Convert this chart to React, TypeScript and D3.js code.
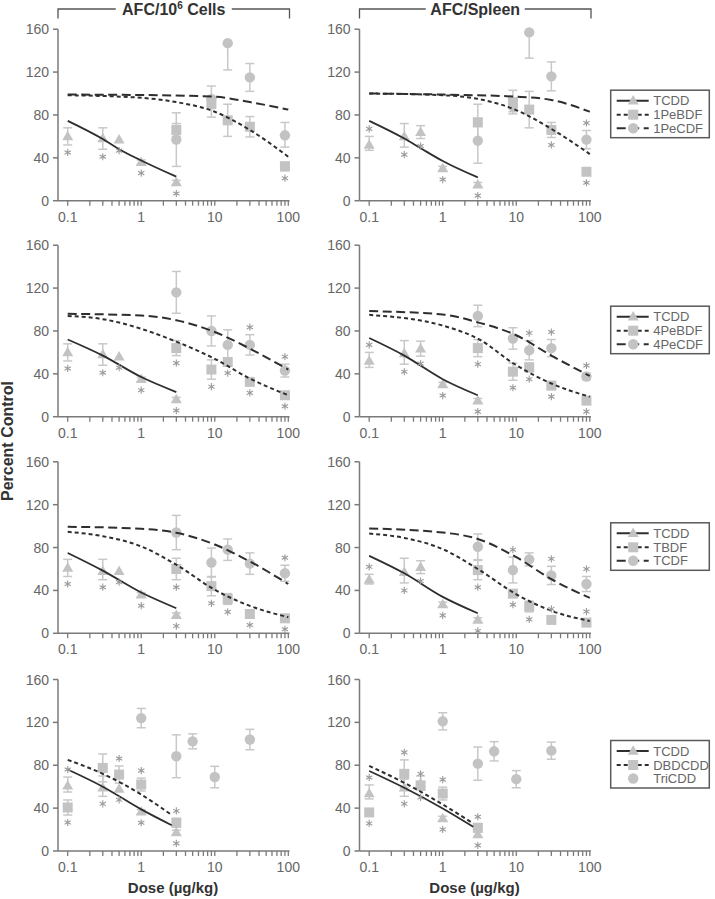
import React from 'react';
import * as d3 from 'd3';

// [dose, mean, errLo, errHi, star] star: 0 none, 1 below, 2 above
type Pt = [number, number, number, number, number];
type Cv = [number, number][];

const doseTicks = [0.1, 1, 10, 100];
const doseTickLabels = ['0.1', '1', '10', '100'];
const yTicks = [0, 40, 80, 120, 160];
const columnTitles = ['AFC/10|6| Cells', 'AFC/Spleen'];
const xTitle = 'Dose (µg/kg)';
const yTitle = 'Percent Control';
const legendNames = [
  ['TCDD', '1PeBDF', '1PeCDF'],
  ['TCDD', '4PeBDF', '4PeCDF'],
  ['TCDD', 'TBDF', 'TCDF'],
  ['TCDD', 'DBDCDD', 'TriCDD'],
];

// ---------- Row 1 ----------
const r1L_TCDD: Pt[] = [[0.1, 60, 8, 8, 1], [0.3, 58, 10, 10, 1], [0.5, 57, 0, 0, 1], [1, 36, 2, 2, 1], [3, 17, 2, 2, 1]];
const r1L_1PeBDF: Pt[] = [[3, 66, 6, 6, 0], [9, 91, 5, 5, 0], [15, 75, 15, 15, 0], [30, 69, 9.5, 9.5, 0], [90, 32, 4, 4, 1]];
const r1L_1PeCDF: Pt[] = [[3, 57, 25, 25, 0], [9, 95, 17, 12, 0], [15, 147, 25, 0, 0], [30, 115, 13, 13, 0], [90, 61, 11, 12, 0]];
const r1L_cTCDD: Cv = [[0.1, 74.5], [0.3, 57.5], [0.5, 48], [1, 37.5], [3, 22.4]];
const r1L_c1PeBDF: Cv = [[0.1, 98.4], [1, 96], [3, 92], [10, 83], [30, 66], [100, 41]];
const r1L_c1PeCDF: Cv = [[0.1, 99], [1, 98.6], [10, 97], [30, 92], [100, 85]];

const r1R_TCDD: Pt[] = [[0.1, 52, 5, 8, 2], [0.3, 60, 10, 12, 1], [0.5, 64, 6, 6, 1], [1, 30, 2, 2, 1], [3, 15, 2, 2, 1]];
const r1R_1PeBDF: Pt[] = [[3, 73, 17, 17, 0], [9, 92, 11, 11, 0], [15, 85, 17, 17, 0], [30, 66, 7, 7, 1], [90, 27, 3, 3, 1]];
const r1R_1PeCDF: Pt[] = [[3, 56, 21, 21, 0], [9, 88, 5, 5, 0], [15, 157, 24, 0, 0], [30, 116, 13.5, 13.5, 0], [90, 57, 8.5, 8.5, 2]];
const r1R_cTCDD: Cv = [[0.1, 74.5], [0.3, 58], [0.5, 49], [1, 37], [3, 21.7]];
const r1R_c1PeBDF: Cv = [[0.1, 100], [1, 98.4], [3, 95], [10, 84.5], [30, 67], [100, 43.5]];
const r1R_c1PeCDF: Cv = [[0.1, 100], [1, 99], [10, 97], [30, 94], [100, 83]];

// ---------- Row 2 ----------
const r2L_TCDD: Pt[] = [[0.1, 60, 8, 8, 1], [0.3, 58, 10, 10, 1], [0.5, 56, 0, 0, 1], [1, 35, 2, 2, 1], [3, 16, 2, 2, 1]];
const r2L_4PeBDF: Pt[] = [[3, 64, 7, 7, 1], [9, 44, 9, 9, 1], [15, 51, 3, 3, 1], [30, 32.5, 3, 3, 1], [90, 20, 2, 2, 1]];
const r2L_4PeCDF: Pt[] = [[3, 116, 19.5, 19.5, 0], [9, 80, 14, 14, 0], [15, 67, 14, 14, 0], [30, 67, 9.5, 9.5, 2], [90, 43, 6, 6, 2]];
const r2L_cTCDD: Cv = [[0.1, 72], [0.3, 57], [1, 37], [3, 23]];
const r2L_c4PeBDF: Cv = [[0.1, 94], [0.3, 91], [1, 82], [3, 70], [10, 54], [30, 35.6], [100, 20]];
const r2L_c4PeCDF: Cv = [[0.1, 96], [1, 94.4], [3, 90], [10, 79], [30, 63.5], [100, 44]];

const r2R_TCDD: Pt[] = [[0.1, 52, 6, 8, 2], [0.3, 59, 10, 12, 1], [0.5, 63.5, 7, 7, 1], [1, 30, 2, 2, 1], [3, 15, 2, 2, 1]];
const r2R_4PeBDF: Pt[] = [[3, 64, 8, 8, 1], [9, 42, 8, 8, 1], [15, 46, 4, 4, 1], [30, 29, 2, 2, 1], [90, 15, 2, 2, 1]];
const r2R_4PeCDF: Pt[] = [[3, 94, 10, 10, 0], [9, 73, 10, 10, 0], [15, 62, 9, 9, 2], [30, 64, 8, 8, 2], [90, 37.5, 3, 3, 2]];
const r2R_cTCDD: Cv = [[0.1, 73.4], [0.3, 57], [1, 35], [3, 20]];
const r2R_c4PeBDF: Cv = [[0.1, 95], [1, 85], [3, 72.8], [10, 48], [30, 31], [100, 18.6]];
const r2R_c4PeCDF: Cv = [[0.1, 98.5], [1, 95.4], [3, 88], [10, 76], [30, 57], [100, 38]];

// ---------- Row 3 ----------
const r3L_TCDD: Pt[] = [[0.1, 61, 8, 8, 1], [0.3, 58, 8, 11, 1], [0.5, 58, 0, 0, 1], [1, 36, 2, 2, 1], [3, 17, 2, 2, 1]];
const r3L_TBDF: Pt[] = [[3, 60, 10, 10, 1], [9, 44, 9, 9, 1], [15, 32, 5, 5, 1], [30, 18, 2, 2, 1], [90, 14, 2, 2, 1]];
const r3L_TCDF: Pt[] = [[3, 94, 16, 16, 0], [9, 66, 13.5, 13.5, 0], [15, 78, 10, 10, 0], [30, 65, 10, 10, 0], [90, 56, 7.5, 7.5, 2]];
const r3L_cTCDD: Cv = [[0.1, 75], [0.3, 58.5], [1, 38], [3, 23.4]];
const r3L_cTBDF: Cv = [[0.1, 94.7], [0.3, 90.6], [1, 81], [3, 64], [10, 40.6], [30, 25.6], [100, 15]];
const r3L_cTCDF: Cv = [[0.1, 99.4], [1, 97.5], [3, 93.75], [10, 82.8], [30, 67], [100, 46]];

const r3R_TCDD: Pt[] = [[0.1, 50, 4, 5, 2], [0.3, 57, 10, 13, 1], [0.5, 61.7, 6, 6, 1], [1, 27, 2, 2, 1], [3, 12.5, 2, 2, 1]];
const r3R_TBDF: Pt[] = [[3, 59, 9, 9, 1], [9, 37, 3, 3, 1], [15, 25, 5, 5, 1], [30, 12.5, 2, 2, 2], [90, 10, 2, 2, 2]];
const r3R_TCDF: Pt[] = [[3, 80.7, 12, 12, 0], [9, 59, 12, 12, 2], [15, 69, 6, 6, 0], [30, 54, 8.5, 8.5, 2], [90, 46, 7, 7, 2]];
const r3R_cTCDD: Cv = [[0.1, 72.3], [0.3, 56], [1, 34], [3, 18.7]];
const r3R_cTBDF: Cv = [[0.1, 93], [0.3, 89], [1, 78.5], [3, 60], [10, 36.4], [30, 21], [100, 11.5]];
const r3R_cTCDF: Cv = [[0.1, 97.8], [1, 94], [3, 88], [10, 71], [30, 50.5], [100, 33]];

// ---------- Row 4 ----------
const r4L_TCDD: Pt[] = [[0.1, 61, 6, 8, 2], [0.3, 59, 8, 11, 1], [0.5, 58, 0, 0, 1], [1, 36.6, 2, 2, 1], [3, 17.4, 2, 2, 1]];
const r4L_DBDCDD: Pt[] = [[0.1, 40.6, 7, 7, 1], [0.3, 77.5, 13, 13, 0], [0.5, 71.3, 8, 8, 2], [1, 62, 6, 6, 2], [3, 26.4, 4, 4, 2]];
const r4L_TriCDD: Pt[] = [[1, 124, 9, 9, 0], [3, 88.4, 20, 20, 0], [5, 102.3, 7, 7, 0], [10, 69, 10, 10, 0], [30, 104, 9.5, 9.5, 0]];
const r4L_cTCDD: Cv = [[0.1, 76], [0.3, 60], [1, 38.8], [2.6, 24]];
const r4L_cDBDCDD: Cv = [[0.1, 85], [0.3, 72], [1, 52.7], [2.6, 33.5]];

const r4R_TCDD: Pt[] = [[0.1, 53.6, 5, 8, 2], [0.3, 59, 8, 8, 1], [0.5, 63, 6, 7, 1], [1, 30.4, 2, 2, 1], [3, 15.5, 2, 2, 1]];
const r4R_DBDCDD: Pt[] = [[0.1, 36, 3, 3, 1], [0.3, 72, 13, 13, 2], [0.5, 61, 4, 4, 2], [1, 53.6, 6, 6, 2], [3, 21.7, 3, 3, 2]];
const r4R_TriCDD: Pt[] = [[1, 121, 8, 8, 0], [3, 81.5, 15.5, 15.5, 0], [5, 93, 9, 9, 0], [10, 67, 8, 8, 0], [30, 93.6, 8, 8, 0]];
const r4R_cTCDD: Cv = [[0.1, 74.7], [0.3, 59], [1, 39.7], [2.6, 22.6]];
const r4R_cDBDCDD: Cv = [[0.1, 79.4], [0.3, 63.6], [1, 43.4], [2.6, 25.7]];

type Panel = { pts: Pt[][]; curves: (Cv | null)[] };
const rows: { names: string[]; left: Panel; right: Panel }[] = [
  { names: legendNames[0],
    left: { pts: [r1L_TCDD, r1L_1PeBDF, r1L_1PeCDF], curves: [r1L_cTCDD, r1L_c1PeBDF, r1L_c1PeCDF] },
    right: { pts: [r1R_TCDD, r1R_1PeBDF, r1R_1PeCDF], curves: [r1R_cTCDD, r1R_c1PeBDF, r1R_c1PeCDF] } },
  { names: legendNames[1],
    left: { pts: [r2L_TCDD, r2L_4PeBDF, r2L_4PeCDF], curves: [r2L_cTCDD, r2L_c4PeBDF, r2L_c4PeCDF] },
    right: { pts: [r2R_TCDD, r2R_4PeBDF, r2R_4PeCDF], curves: [r2R_cTCDD, r2R_c4PeBDF, r2R_c4PeCDF] } },
  { names: legendNames[2],
    left: { pts: [r3L_TCDD, r3L_TBDF, r3L_TCDF], curves: [r3L_cTCDD, r3L_cTBDF, r3L_cTCDF] },
    right: { pts: [r3R_TCDD, r3R_TBDF, r3R_TCDF], curves: [r3R_cTCDD, r3R_cTBDF, r3R_cTCDF] } },
  { names: legendNames[3],
    left: { pts: [r4L_TCDD, r4L_DBDCDD, r4L_TriCDD], curves: [r4L_cTCDD, r4L_cDBDCDD, null] },
    right: { pts: [r4R_TCDD, r4R_DBDCDD, r4R_TriCDD], curves: [r4R_cTCDD, r4R_cDBDCDD, null] } },
];

// ---------- layout ----------
const W = 715, H = 899;
const FONT = '"Liberation Sans", Arial, Helvetica, sans-serif';
const colAxisX = [58, 359.5];
const colRange: [number, number][] = [[67.7, 288.3], [369.2, 589.8]];
const rowZeroY = [200.7, 416.7, 633.3, 851];
const plotH = 171.5;
const MARK = '#c3c3c3';
const ERR = '#c8c8c8';
const LINE = '#2e2e2e';
const AXIS = '#7a7a7a';
const TXT = '#666';
const STAR = '#9a9a9a';
const dashes = [null, '4,3', '9,4.5'];

function Marker({ kind, x, y }: { kind: number; x: number; y: number }) {
  if (kind === 0) {
    const s = 11, h = 9.5;
    return <path d={`M${x},${y - h * 0.6}L${x + s / 2},${y + h * 0.4}L${x - s / 2},${y + h * 0.4}Z`} fill={MARK} />;
  }
  if (kind === 1) return <rect x={x - 5} y={y - 5} width={10} height={10} fill={MARK} />;
  return <circle cx={x} cy={y} r={5.2} fill={MARK} />;
}

function Star({ x, y }: { x: number; y: number }) {
  const r = 3.6;
  const d = [90, 30, 150].map((a) => {
    const rad = (a * Math.PI) / 180;
    const dx = r * Math.cos(rad), dy = r * Math.sin(rad);
    return `M${x - dx},${y - dy}L${x + dx},${y + dy}`;
  }).join('');
  return <path d={d} stroke={STAR} strokeWidth={1.1} fill="none" />;
}

function PanelView({ panel, col, row }: { panel: Panel; col: number; row: number }) {
  const x = d3.scaleLog().domain([0.1, 100]).range(colRange[col]);
  const y0 = rowZeroY[row];
  const y = d3.scaleLinear().domain([0, 160]).range([y0, y0 - plotH]);
  const ax = colAxisX[col];
  const xEnd = colRange[col][1] + 1.2;
  const minor = x.ticks();
  const line = d3.line<[number, number]>().x((d) => x(d[0])).y((d) => y(d[1])).curve(d3.curveMonotoneX);
  return (
    <g>
      {/* axes */}
      <line x1={ax} x2={ax} y1={y(160)} y2={y0} stroke={AXIS} strokeWidth={1.5} />
      <line x1={ax} x2={xEnd} y1={y0} y2={y0} stroke={AXIS} strokeWidth={1.5} />
      {yTicks.map((t) => (
        <g key={'y' + t}>
          <line x1={ax - 5} x2={ax} y1={y(t)} y2={y(t)} stroke={AXIS} strokeWidth={1.5} />
          <text x={ax - 9} y={y(t)} dy="0.36em" textAnchor="end" fontSize={14} fill={TXT} fontFamily={FONT}>{t}</text>
        </g>
      ))}
      {minor.map((t, i) => (
        <line key={'m' + i} x1={x(t)} x2={x(t)} y1={y0} y2={y0 + 5} stroke={AXIS} strokeWidth={1.3} />
      ))}
      {doseTicks.map((t, i) => (
        <text key={'xl' + i} x={x(t)} y={y0 + 21} textAnchor="middle" fontSize={14} fill={TXT} fontFamily={FONT}>{doseTickLabels[i]}</text>
      ))}
      {/* error bars */}
      {panel.pts.map((ser, si) => ser.map((p, pi) => {
        const cx = x(p[0]);
        const yt = y(p[1] + p[3]);
        const yb = y(p[1] - p[2]);
        return (
          <g key={`e${si}-${pi}`} stroke={ERR} strokeWidth={1.5}>
            {p[3] > 0 && <line x1={cx} x2={cx} y1={y(p[1])} y2={yt} />}
            {p[3] > 0 && <line x1={cx - 4.5} x2={cx + 4.5} y1={yt} y2={yt} />}
            {p[2] > 0 && <line x1={cx} x2={cx} y1={y(p[1])} y2={yb} />}
            {p[2] > 0 && <line x1={cx - 4.5} x2={cx + 4.5} y1={yb} y2={yb} />}
          </g>
        );
      }))}
      {/* markers */}
      {panel.pts.map((ser, si) => ser.map((p, pi) => (
        <Marker key={`p${si}-${pi}`} kind={si} x={x(p[0])} y={y(p[1])} />
      )))}
      {/* curves */}
      {panel.curves.map((c, si) => c && (
        <path key={'c' + si} d={line(c) || ''} fill="none" stroke={LINE} strokeWidth={si === 0 ? 1.8 : 2}
          strokeDasharray={dashes[si] || undefined} />
      ))}
      {/* significance stars */}
      {panel.pts.map((ser, si) => ser.map((p, pi) => {
        if (!p[4]) return null;
        const cx = x(p[0]);
        const sy = p[4] === 1
          ? Math.max(y(p[1]) + 11, y(p[1] - p[2]) + 7.5)
          : Math.min(y(p[1]) - 11, y(p[1] + p[3]) - 7.5);
        return <Star key={`s${si}-${pi}`} x={cx} y={sy} />;
      }))}
    </g>
  );
}

function Legend({ names, row }: { names: string[]; row: number }) {
  const top = rowZeroY[row] - plotH + 61;
  const left = 610.7;
  const rowsY = [10.5, 24.5, 38];
  return (
    <g>
      <rect x={left} y={top} width={98.6} height={47.5} fill="#fff" stroke="#5a5a5a" strokeWidth={1.5} />
      {names.map((n, i) => {
        const yy = top + rowsY[i];
        const hasLine = !(row === 3 && i === 2);
        return (
          <g key={n}>
            {hasLine && <line x1={left + 6} x2={left + 38} y1={yy} y2={yy} stroke={LINE} strokeWidth={2}
              strokeDasharray={dashes[i] || undefined} />}
            <Marker kind={i} x={left + 22.5} y={yy} />
            <text x={left + 42.5} y={yy} dy="0.36em" fontSize={13} fill={TXT} fontFamily={FONT}>{n}</text>
          </g>
        );
      })}
    </g>
  );
}

function ColumnHeader({ col }: { col: number }) {
  const ax = colAxisX[col];
  const end = colRange[col][1] + 1.2;
  const cx = (ax + end) / 2;
  const parts = columnTitles[col].split('|');
  const tw = col === 0 ? 108 : 91;
  return (
    <g>
      <path d={`M${ax},18.5V9H${cx - tw / 2 - 4}`} fill="none" stroke="#555" strokeWidth={1.3} />
      <path d={`M${cx + tw / 2 + 4},9H${end}V18.5`} fill="none" stroke="#555" strokeWidth={1.3} />
      <text x={cx} y={14.5} textAnchor="middle" fontSize={16} fontWeight="bold" fill="#333" fontFamily={FONT}>
        {parts[0]}
        {parts.length > 1 && <tspan dy={-6} fontSize={10}>{parts[1]}</tspan>}
        {parts.length > 1 && <tspan dy={6}>{parts[2]}</tspan>}
      </text>
    </g>
  );
}

export default function App() {
  return (
    <svg width={W} height={H} viewBox={`0 0 ${W} ${H}`} style={{ position: 'absolute', left: 0, top: 0, background: '#fff' }}>
      <rect width={W} height={H} fill="#fff" />
      <ColumnHeader col={0} />
      <ColumnHeader col={1} />
      {rows.map((r, ri) => (
        <g key={ri}>
          <PanelView panel={r.left} col={0} row={ri} />
          <PanelView panel={r.right} col={1} row={ri} />
          <Legend names={r.names} row={ri} />
        </g>
      ))}
      <text transform={`translate(13,441) rotate(-90)`} textAnchor="middle" fontSize={16} fontWeight="bold" fill="#333" fontFamily={FONT}>{yTitle}</text>
      <text x={173} y={893} textAnchor="middle" fontSize={15} fontWeight="bold" fill="#333" fontFamily={FONT}>{xTitle}</text>
      <text x={474.5} y={893} textAnchor="middle" fontSize={15} fontWeight="bold" fill="#333" fontFamily={FONT}>{xTitle}</text>
    </svg>
  );
}
